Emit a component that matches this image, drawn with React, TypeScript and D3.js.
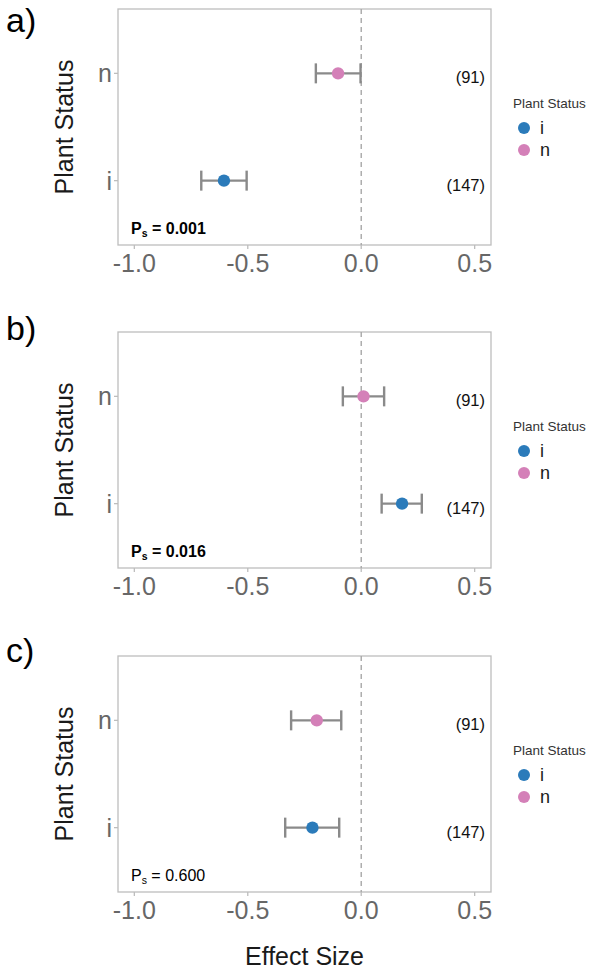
import React from "react";
import * as d3 from "d3";

// Forest-plot style panels: effect size by plant status (i = introduced, n = native)
const panelLabels = ["a)", "b)", "c)"];
const categories = ["i", "n"];
const sampleSizes = [147, 91];
const pValues = ["0.001", "0.016", "0.600"];
const pBold = [true, true, false];

// mean effect size and CI bounds per panel, ordered as categories (i, n)
const meanA = [-0.605, -0.102];
const lowA = [-0.705, -0.2];
const highA = [-0.505, -0.003];

const meanB = [0.18, 0.01];
const lowB = [0.09, -0.081];
const highB = [0.267, 0.101];

const meanC = [-0.215, -0.196];
const lowC = [-0.335, -0.309];
const highC = [-0.097, -0.088];

const xTicks = [-1.0, -0.5, 0.0, 0.5];
const xDomain = [-1.072, 0.572];
const legendTitle = "Plant Status";
const yTitle = "Plant Status";
const xTitle = "Effect Size";

const colors: Record<string, string> = { i: "#2b7bba", n: "#d480b8" };

const FONT = "'Liberation Sans', Arial, Helvetica, sans-serif";
const W = 592;
const H = 970;
const left = 118;
const right = 491;
const panelH = 236;
const panelTops = [9, 332, 656];
const letterY = [32, 340, 662];

const locale = d3.formatLocale({
  decimal: ".",
  thousands: ",",
  grouping: [3],
  currency: ["", ""],
  minus: "-",
});
const fmt = locale.format(".1f");

const series = [
  { mean: meanA, low: lowA, high: highA },
  { mean: meanB, low: lowB, high: highB },
  { mean: meanC, low: lowC, high: highC },
];

function Panel({ idx }: { idx: number }) {
  const top = panelTops[idx];
  const bottom = top + panelH;
  const x = d3.scaleLinear().domain(xDomain).range([left, right]);
  const y = d3
    .scalePoint<string>()
    .domain(["n", "i"])
    .range([top, bottom])
    .padding(0.6);
  const s = series[idx];
  const rows = categories.map((c, k) => ({
    cat: c,
    mean: s.mean[k],
    low: s.low[k],
    high: s.high[k],
    n: sampleSizes[k],
  }));
  const midY = (top + bottom) / 2;
  return (
    <g>
      <text x={6} y={letterY[idx]} fontSize={34} fontFamily={FONT} fill="#000">
        {panelLabels[idx]}
      </text>
      {/* panel border */}
      <rect
        x={left}
        y={top}
        width={right - left}
        height={panelH}
        fill="#fff"
        stroke="#bdbdbd"
        strokeWidth={1.3}
      />
      {/* zero reference line */}
      <line
        x1={x(0)}
        x2={x(0)}
        y1={top}
        y2={bottom}
        stroke="#a8a8a8"
        strokeWidth={1.4}
        strokeDasharray="5 4"
      />
      {/* x axis ticks and labels */}
      {xTicks.map((t) => (
        <g key={t}>
          <line x1={x(t)} x2={x(t)} y1={bottom} y2={bottom + 4} stroke="#bdbdbd" strokeWidth={1.3} />
          <text
            x={x(t)}
            y={bottom + 27}
            textAnchor="middle"
            fontSize={25}
            fontFamily={FONT}
            fill="#676767"
          >
            {fmt(t)}
          </text>
        </g>
      ))}
      {/* y axis ticks and labels */}
      {categories.map((c) => (
        <g key={c}>
          <line x1={left - 4} x2={left} y1={y(c)!} y2={y(c)!} stroke="#bdbdbd" strokeWidth={1.3} />
          <text
            x={left - 6}
            y={y(c)! + 9}
            textAnchor="end"
            fontSize={25}
            fontFamily={FONT}
            fill="#676767"
          >
            {c}
          </text>
        </g>
      ))}
      <text
        transform={`translate(73,${midY}) rotate(-90)`}
        textAnchor="middle"
        fontSize={25}
        fontFamily={FONT}
        fill="#1a1a1a"
      >
        {yTitle}
      </text>
      {/* error bars and means */}
      {rows.map((r) => {
        const cy = y(r.cat)!;
        return (
          <g key={r.cat}>
            <line x1={x(r.low)} x2={x(r.high)} y1={cy} y2={cy} stroke="#8a8a8a" strokeWidth={2.4} />
            <line x1={x(r.low)} x2={x(r.low)} y1={cy - 10} y2={cy + 10} stroke="#8a8a8a" strokeWidth={2.4} />
            <line x1={x(r.high)} x2={x(r.high)} y1={cy - 10} y2={cy + 10} stroke="#8a8a8a" strokeWidth={2.4} />
            <circle cx={x(r.mean)} cy={cy} r={6.2} fill={colors[r.cat]} />
            <text
              x={485}
              y={cy + 10}
              textAnchor="end"
              fontSize={16.5}
              fontFamily={FONT}
              fill="#111"
            >
              ({r.n})
            </text>
          </g>
        );
      })}
      {/* P value annotation */}
      <text
        x={131}
        y={bottom - 11}
        fontSize={16}
        fontFamily={FONT}
        fontWeight={pBold[idx] ? "bold" : "normal"}
        fill="#000"
      >
        P
        <tspan fontSize={10.5} dy={3}>
          s
        </tspan>
        <tspan dy={-3}>{` = ${pValues[idx]}`}</tspan>
      </text>
      {/* legend */}
      <g>
        <text x={513} y={top + 99} fontSize={13.5} fontFamily={FONT} fill="#333">
          {legendTitle}
        </text>
        {categories.map((c, k) => (
          <g key={c}>
            <circle cx={524} cy={top + 119 + k * 22} r={6} fill={colors[c]} />
            <text
              x={540}
              y={top + 119 + k * 22 + 6}
              fontSize={18}
              fontFamily={FONT}
              fill="#1a1a1a"
            >
              {c}
            </text>
          </g>
        ))}
      </g>
    </g>
  );
}

export default function App() {
  return (
    <svg
      width={W}
      height={H}
      style={{ position: "absolute", left: 0, top: 0, background: "#fff" }}
    >
      <rect width={W} height={H} fill="#fff" />
      {panelTops.map((_, i) => (
        <Panel key={i} idx={i} />
      ))}
      <text
        x={(left + right) / 2}
        y={965}
        textAnchor="middle"
        fontSize={25}
        fontFamily={FONT}
        fill="#1a1a1a"
      >
        {xTitle}
      </text>
    </svg>
  );
}
